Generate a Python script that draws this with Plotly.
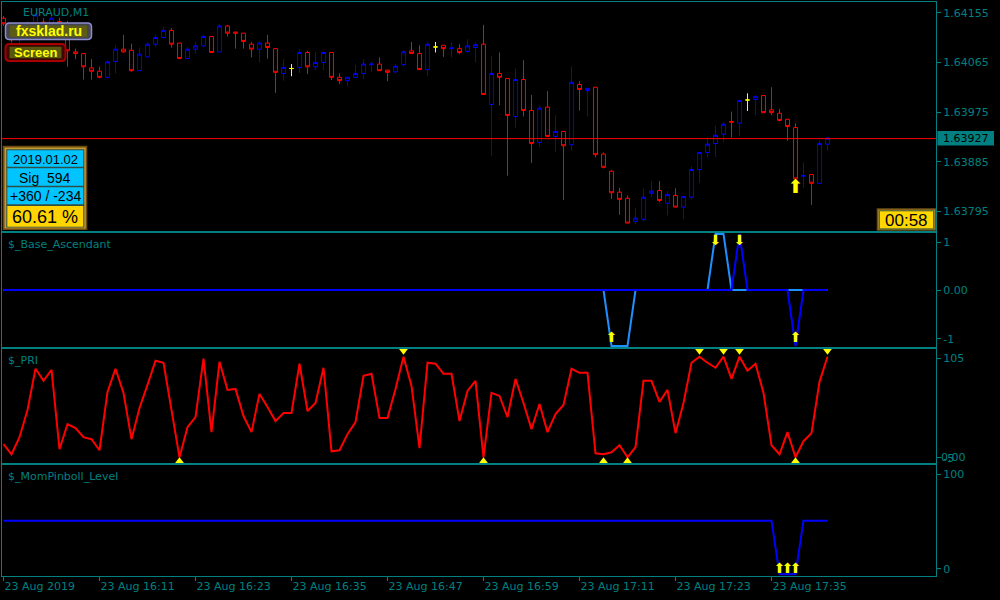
import plotly.graph_objects as go

# ---------------- data ----------------
time_ticks = [0, 12, 24, 36, 48, 60, 72, 84, 96]
time_labels = ["23 Aug 2019", "23 Aug 16:11", "23 Aug 16:23", "23 Aug 16:35", "23 Aug 16:47",
               "23 Aug 16:59", "23 Aug 17:11", "23 Aug 17:23", "23 Aug 17:35"]

opens = [1.64145, 1.64127, 1.64106, 1.64118, 1.64135, 1.64138, 1.64136, 1.64139, 1.64133, 1.64084,
         1.64081, 1.64055, 1.64049, 1.64038, 1.64067, 1.64089, 1.64087, 1.64050, 1.64075, 1.64098,
         1.64110, 1.64123, 1.64100, 1.64072, 1.64089, 1.64095, 1.64112, 1.64084, 1.64131, 1.64120,
         1.64118, 1.64098, 1.64089, 1.64100, 1.64090, 1.64045, 1.64054, 1.64056, 1.64083, 1.64057,
         1.64065, 1.64083, 1.64038, 1.64032, 1.64038, 1.64045, 1.64061, 1.64062, 1.64051, 1.64048,
         1.64061, 1.64086, 1.64081, 1.64052, 1.64093, 1.64096, 1.64090, 1.64090, 1.64085, 1.64092,
         1.64098, 1.63989, 1.64045, 1.64036, 1.63967, 1.64034, 1.63978, 1.63920, 1.63984, 1.63931,
         1.63940, 1.63916, 1.64025, 1.64014, 1.64020, 1.63899, 1.63868, 1.63830, 1.63819, 1.63777,
         1.63781, 1.63828, 1.63833, 1.63810, 1.63824, 1.63803, 1.63821, 1.63871, 1.63902, 1.63918,
         1.63935, 1.63958, 1.63955, 1.63997, 1.63998, 1.64005, 1.63979, 1.63973, 1.63962, 1.63947,
         1.63859, 1.63862, 1.63846, 1.63917]
highs = [1.64149, 1.64131, 1.64122, 1.64140, 1.64154, 1.64145, 1.64150, 1.64146, 1.64140, 1.64090,
         1.64081, 1.64071, 1.64057, 1.64068, 1.64096, 1.64115, 1.64099, 1.64092, 1.64102, 1.64115,
         1.64129, 1.64127, 1.64100, 1.64093, 1.64102, 1.64115, 1.64112, 1.64135, 1.64133, 1.64120,
         1.64118, 1.64102, 1.64104, 1.64115, 1.64090, 1.64071, 1.64062, 1.64089, 1.64086, 1.64084,
         1.64085, 1.64083, 1.64045, 1.64038, 1.64060, 1.64071, 1.64066, 1.64074, 1.64052, 1.64062,
         1.64087, 1.64102, 1.64096, 1.64102, 1.64102, 1.64096, 1.64101, 1.64098, 1.64107, 1.64102,
         1.64133, 1.64077, 1.64083, 1.64036, 1.64054, 1.64069, 1.64006, 1.63987, 1.64013, 1.63969,
         1.63940, 1.64058, 1.64031, 1.64018, 1.64020, 1.63902, 1.63870, 1.63838, 1.63824, 1.63801,
         1.63837, 1.63850, 1.63850, 1.63832, 1.63837, 1.63822, 1.63877, 1.63902, 1.63929, 1.63950,
         1.63957, 1.63976, 1.63996, 1.64009, 1.64006, 1.64005, 1.64020, 1.63981, 1.63962, 1.63955,
         1.63884, 1.63862, 1.63924, 1.63929]
lows = [1.64131, 1.64101, 1.64100, 1.64112, 1.64130, 1.64128, 1.64132, 1.64130, 1.64057, 1.64071,
        1.64034, 1.64034, 1.64036, 1.64036, 1.64045, 1.64083, 1.64048, 1.64050, 1.64075, 1.64093,
        1.64109, 1.64092, 1.64072, 1.64072, 1.64081, 1.64093, 1.64083, 1.64083, 1.64112, 1.64090,
        1.64090, 1.64074, 1.64065, 1.64072, 1.64010, 1.64032, 1.64040, 1.64046, 1.64044, 1.64051,
        1.64051, 1.64033, 1.64026, 1.64022, 1.64038, 1.64035, 1.64048, 1.64050, 1.64031, 1.64045,
        1.64057, 1.64081, 1.64052, 1.64040, 1.64083, 1.64075, 1.64074, 1.64080, 1.64083, 1.64065,
        1.64007, 1.63896, 1.63987, 1.63860, 1.63947, 1.63967, 1.63883, 1.63912, 1.63931, 1.63903,
        1.63816, 1.63905, 1.63978, 1.63967, 1.63893, 1.63873, 1.63818, 1.63789, 1.63774, 1.63772,
        1.63777, 1.63821, 1.63812, 1.63788, 1.63803, 1.63781, 1.63817, 1.63847, 1.63893, 1.63894,
        1.63921, 1.63929, 1.63931, 1.63977, 1.63969, 1.63973, 1.63970, 1.63958, 1.63923, 1.63852,
        1.63838, 1.63807, 1.63846, 1.63905]
closes = [1.64135, 1.64106, 1.64118, 1.64135, 1.64151, 1.64133, 1.64145, 1.64133, 1.64086, 1.64081,
          1.64057, 1.64049, 1.64038, 1.64066, 1.64089, 1.64084, 1.64050, 1.64080, 1.64098, 1.64110,
          1.64123, 1.64098, 1.64072, 1.64089, 1.64095, 1.64112, 1.64083, 1.64131, 1.64118, 1.64118,
          1.64103, 1.64089, 1.64100, 1.64092, 1.64047, 1.64056, 1.64054, 1.64083, 1.64057, 1.64065,
          1.64083, 1.64038, 1.64032, 1.64038, 1.64045, 1.64062, 1.64062, 1.64050, 1.64047, 1.64058,
          1.64084, 1.64081, 1.64052, 1.64098, 1.64093, 1.64090, 1.64091, 1.64083, 1.64095, 1.64097,
          1.64007, 1.64045, 1.64038, 1.63969, 1.64034, 1.63978, 1.63918, 1.63982, 1.63931, 1.63940,
          1.63914, 1.64029, 1.64016, 1.64018, 1.63898, 1.63875, 1.63829, 1.63817, 1.63774, 1.63783,
          1.63821, 1.63832, 1.63815, 1.63826, 1.63803, 1.63822, 1.63871, 1.63902, 1.63917, 1.63933,
          1.63953, 1.63957, 1.63996, 1.63997, 1.64003, 1.63974, 1.63974, 1.63960, 1.63949, 1.63854,
          1.63860, 1.63846, 1.63918, 1.63928]

current_price = 1.63927
price_ticks = [1.64155, 1.64065, 1.63975, 1.63885, 1.63795]
signal_arrow_bar = 99
signal_arrow_price = 1.63837

base_light = [0, 0, 0, 0, 0, 0, 0, 0, 0, 0, 0, 0, 0, 0, 0, 0, 0, 0, 0, 0,
              0, 0, 0, 0, 0, 0, 0, 0, 0, 0, 0, 0, 0, 0, 0, 0, 0, 0, 0, 0,
              0, 0, 0, 0, 0, 0, 0, 0, 0, 0, 0, 0, 0, 0, 0, 0, 0, 0, 0, 0,
              0, 0, 0, 0, 0, 0, 0, 0, 0, 0, 0, 0, 0, 0, 0, 0, -1, -1, -1, 0,
              0, 0, 0, 0, 0, 0, 0, 0, 0, 1, 1, 0, 0, 0, 0, 0, 0, 0, 0, 0,
              0, 0, 0, 0]
base_dark = [0, 0, 0, 0, 0, 0, 0, 0, 0, 0, 0, 0, 0, 0, 0, 0, 0, 0, 0, 0,
             0, 0, 0, 0, 0, 0, 0, 0, 0, 0, 0, 0, 0, 0, 0, 0, 0, 0, 0, 0,
             0, 0, 0, 0, 0, 0, 0, 0, 0, 0, 0, 0, 0, 0, 0, 0, 0, 0, 0, 0,
             0, 0, 0, 0, 0, 0, 0, 0, 0, 0, 0, 0, 0, 0, 0, 0, 0, 0, 0, 0,
             0, 0, 0, 0, 0, 0, 0, 0, 0, 0, 0, 0, 1, 0, 0, 0, 0, 0, 0, -1,
             0, 0, 0, 0]
base_up_arrows = [76, 99]
base_down_arrows = [89, 92]

pri = [13, 3, 20, 47, 88, 76, 87, 8, 33, 29, 20, 18, 7, 65, 88, 64, 18, 49, 72, 96,
       94, 47, 0, 30, 40, 98, 25, 95, 67, 68, 41, 25, 63, 50, 36, 44, 44, 93, 46, 54,
       89, 6, 7, 23, 35, 81, 83, 39, 39, 68, 100, 71, 9, 94, 93, 83, 83, 36, 66, 76,
       0, 64, 61, 40, 78, 54, 28, 53, 25, 43, 52, 88, 84, 84, 4, 3, 5, 12, 0, 10,
       76, 76, 55, 67, 24, 54, 94, 100, 94, 89, 100, 78, 100, 86, 93, 64, 12, 3, 25, 0,
       16, 24, 75, 100]
pri_top_marks = [50, 87, 90, 92, 103]
pri_bottom_marks = [22, 60, 75, 78, 99]

mom = [50, 50, 50, 50, 50, 50, 50, 50, 50, 50, 50, 50, 50, 50, 50, 50, 50, 50, 50, 50,
       50, 50, 50, 50, 50, 50, 50, 50, 50, 50, 50, 50, 50, 50, 50, 50, 50, 50, 50, 50,
       50, 50, 50, 50, 50, 50, 50, 50, 50, 50, 50, 50, 50, 50, 50, 50, 50, 50, 50, 50,
       50, 50, 50, 50, 50, 50, 50, 50, 50, 50, 50, 50, 50, 50, 50, 50, 50, 50, 50, 50,
       50, 50, 50, 50, 50, 50, 50, 50, 50, 50, 50, 50, 50, 50, 50, 50, 50, 0, 0, 0,
       50, 50, 50, 50]
mom_up_arrows = [97, 98, 99]

info_date = "2019.01.02"
info_sig = "Sig  594"
info_pl = "+360 / -234"
info_pct = "60.61 %"
timer_text = "00:58"
symbol_title = "EURAUD,M1"

# ---------------- geometry helpers ----------------
W, H = 1000, 600
ML, MR, MT, MB = 2, 64, 2, 24
PW = W - ML - MR
PH = H - MT - MB


def X(px):
    return (px - ML) / PW


def Y(py):
    return (H - MB - py) / PH


TEAL = "#008080"
FONT = "DejaVu Sans"
idx = list(range(len(opens)))
XR = [-0.1875, 116.5625]

fig = go.Figure()

# candles
nd = [i for i in idx if opens[i] != closes[i]]
dj = [i for i in idx if opens[i] == closes[i]]
fig.add_trace(go.Candlestick(
    x=nd, open=[opens[i] for i in nd], high=[highs[i] for i in nd],
    low=[lows[i] for i in nd], close=[closes[i] for i in nd],
    increasing=dict(line=dict(color="#0000ff", width=1), fillcolor="rgba(0,0,0,0)"),
    decreasing=dict(line=dict(color="#ff0000", width=1), fillcolor="rgba(0,0,0,0)"),
    xaxis="x", yaxis="y", hoverinfo="skip", showlegend=False))
fig.add_trace(go.Candlestick(
    x=dj, open=[opens[i] for i in dj], high=[highs[i] for i in dj],
    low=[lows[i] for i in dj], close=[closes[i] for i in dj],
    increasing=dict(line=dict(color="#ffff00", width=1), fillcolor="rgba(0,0,0,0)"),
    decreasing=dict(line=dict(color="#ffff00", width=1), fillcolor="rgba(0,0,0,0)"),
    xaxis="x", yaxis="y", hoverinfo="skip", showlegend=False))

ARROW_UP = "⬆"
ARROW_DN = "⬇"
fig.add_trace(go.Scatter(x=[signal_arrow_bar], y=[signal_arrow_price], mode="text", text=[ARROW_UP],
                         textfont=dict(family=FONT, size=19, color="#ffff00"),
                         xaxis="x", yaxis="y", hoverinfo="skip", showlegend=False))

# Base Ascendant
fig.add_trace(go.Scatter(x=idx, y=base_light, mode="lines", line=dict(color="#1e90ff", width=2),
                         xaxis="x2", yaxis="y2", hoverinfo="skip", showlegend=False))
fig.add_trace(go.Scatter(x=idx, y=base_dark, mode="lines", line=dict(color="#0000ff", width=2),
                         xaxis="x2", yaxis="y2", hoverinfo="skip", showlegend=False))
fig.add_trace(go.Scatter(x=base_up_arrows, y=[-0.87] * len(base_up_arrows), mode="text",
                         text=[ARROW_UP] * len(base_up_arrows),
                         textfont=dict(family=FONT, size=14, color="#ffff00"),
                         xaxis="x2", yaxis="y2", hoverinfo="skip", showlegend=False))
fig.add_trace(go.Scatter(x=base_down_arrows, y=[0.87] * len(base_down_arrows), mode="text",
                         text=[ARROW_DN] * len(base_down_arrows),
                         textfont=dict(family=FONT, size=14, color="#ffff00"),
                         xaxis="x2", yaxis="y2", hoverinfo="skip", showlegend=False))

# PRI
fig.add_trace(go.Scatter(x=idx, y=pri, mode="lines", line=dict(color="#ff0000", width=2),
                         xaxis="x3", yaxis="y3", hoverinfo="skip", showlegend=False))
fig.add_trace(go.Scatter(x=pri_top_marks, y=[106.5] * len(pri_top_marks), mode="markers",
                         marker=dict(symbol="triangle-down", size=9, color="#ffff00"),
                         xaxis="x3", yaxis="y3", hoverinfo="skip", showlegend=False))
fig.add_trace(go.Scatter(x=pri_bottom_marks, y=[-4.5] * len(pri_bottom_marks), mode="markers",
                         marker=dict(symbol="triangle-up", size=9, color="#ffff00"),
                         xaxis="x3", yaxis="y3", hoverinfo="skip", showlegend=False))

# MomPinboll
fig.add_trace(go.Scatter(x=idx, y=mom, mode="lines", line=dict(color="#0000ff", width=2),
                         xaxis="x4", yaxis="y4", hoverinfo="skip", showlegend=False))
fig.add_trace(go.Scatter(x=mom_up_arrows, y=[4.5] * len(mom_up_arrows), mode="text",
                         text=[ARROW_UP] * len(mom_up_arrows),
                         textfont=dict(family=FONT, size=14, color="#ffff00"),
                         xaxis="x4", yaxis="y4", hoverinfo="skip", showlegend=False))

# ---------------- axes ----------------
axfont = dict(family=FONT, size=11, color=TEAL)
xcommon = dict(range=XR, showline=True, mirror=True, linecolor=TEAL, linewidth=1,
               showgrid=False, zeroline=False, fixedrange=True)
ycommon = dict(side="right", showline=True, mirror=True, linecolor=TEAL, linewidth=1,
               showgrid=False, zeroline=False, ticks="outside", ticklen=4, tickcolor=TEAL,
               tickfont=axfont, fixedrange=True)

fig.update_layout(
    width=W, height=H, margin=dict(l=ML, r=MR, t=MT, b=MB),
    paper_bgcolor="#000000", plot_bgcolor="#000000", showlegend=False,
    xaxis=dict(**xcommon, anchor="y", showticklabels=False, rangeslider=dict(visible=False)),
    xaxis2=dict(**xcommon, anchor="y2", matches="x", showticklabels=False),
    xaxis3=dict(**xcommon, anchor="y3", matches="x", showticklabels=False),
    xaxis4=dict(**xcommon, anchor="y4", matches="x", tickvals=time_ticks, ticktext=time_labels,
                ticks="outside", ticklen=4, tickcolor=TEAL, tickfont=axfont,
                ticklabelposition="outside right"),
    yaxis=dict(**ycommon, anchor="x", domain=[Y(231), Y(2)], range=[1.637597, 1.641744],
               tickvals=price_ticks, ticktext=["%.5f" % v for v in price_ticks]),
    yaxis2=dict(**ycommon, anchor="x2", domain=[Y(347), Y(233)], range=[-1.018, 1.018],
                tickvals=[0.857, 0, -0.875], ticktext=["1", "0.00", "-1"]),
    yaxis3=dict(**ycommon, anchor="x3", domain=[Y(463), Y(349)], range=[-5.67, 107.65],
                tickvals=[98.4, -0.4], ticktext=["105", "-5"]),
    yaxis4=dict(**ycommon, anchor="x4", domain=[Y(576), Y(465)], range=[-1.59, 101.96],
                tickvals=[93.3, 5.2], ticktext=["100", "0"]),
)

shapes = []
annos = []


def rect(x0, y0, x1, y1, fill, line=None, lw=0):
    shapes.append(dict(type="rect", xref="paper", yref="paper", x0=X(x0), x1=X(x1), y0=Y(y1), y1=Y(y0),
                       fillcolor=fill, line=dict(color=line or fill, width=lw), layer="above"))


def rrect(x0, y0, x1, y1, r, fill, line, lw):
    p = (f"M{X(x0 + r)},{Y(y0)} L{X(x1 - r)},{Y(y0)} Q{X(x1)},{Y(y0)} {X(x1)},{Y(y0 + r)} "
         f"L{X(x1)},{Y(y1 - r)} Q{X(x1)},{Y(y1)} {X(x1 - r)},{Y(y1)} L{X(x0 + r)},{Y(y1)} "
         f"Q{X(x0)},{Y(y1)} {X(x0)},{Y(y1 - r)} L{X(x0)},{Y(y0 + r)} Q{X(x0)},{Y(y0)} {X(x0 + r)},{Y(y0)} Z")
    shapes.append(dict(type="path", xref="paper", yref="paper", path=p, fillcolor=fill,
                       line=dict(color=line, width=lw), layer="above"))


def text(px, py, s, size, color, family=FONT, anchor="left", bold=False):
    annos.append(dict(xref="paper", yref="paper", x=X(px), y=Y(py), text=s, showarrow=False,
                      xanchor=anchor, yanchor="middle",
                      font=dict(family=family, size=size, color=color, weight="bold" if bold else "normal")))


# current price line
shapes.append(dict(type="line", xref="paper", yref="y", x0=0, x1=1, y0=current_price, y1=current_price,
                   line=dict(color="#ff0000", width=1), layer="above"))
# price label
rect(937.5, 131, 994, 145.5, TEAL)
text(941.5, 138.3, "%.5f" % current_price, 11, "#000000")

# title and panel names
text(20.5, 12.7, symbol_title, 11, TEAL)
text(6, 244.5, "$_Base_Ascendant", 11, TEAL)
text(6, 360.5, "$_PRI", 11, TEAL)
text(6, 476.5, "$_MomPinboll_Level", 11, TEAL)
text(939.5, 457.7, "0.00", 11, TEAL)

# buttons
rrect(5.5, 23, 91.5, 39.5, 4, "#45454f", "#8c8cd0", 1.5)
rect(10, 25.5, 87, 37, "#5c5c18")
text(48.5, 31.3, "fxsklad.ru", 14, "#ffff00", family="Liberation Sans", anchor="center", bold=True)
rrect(5.5, 44, 65.5, 61, 4, "#3a0800", "#a80000", 2)
rect(9.5, 46.8, 61.5, 58.2, "#56560e")
text(35.5, 52.8, "Screen", 13, "#ffff00", family="Liberation Sans", anchor="center", bold=True)

# info panel
rect(2.7, 145.7, 87.3, 230, "#6e4a10")
rect(4.5, 147.5, 85.8, 228.5, "#c29a32")
rect(6.3, 149.2, 84.3, 227.6, "#2f4f46")
rect(7.3, 150.2, 83.3, 166.7, "#00c4ff")
rect(7.3, 168.3, 83.3, 185.7, "#00c4ff")
rect(7.3, 187.3, 83.3, 204.3, "#00c4ff")
rect(7.3, 206, 83.3, 226.7, "#ffd400")
text(45.3, 159.3, info_date, 13, "#000000", family="Liberation Sans", anchor="center")
text(45.3, 177.5, info_sig, 14, "#000000", family="Liberation Sans", anchor="center")
text(45.3, 196.2, info_pl, 14, "#000000", family="Liberation Sans", anchor="center")
text(45.3, 217.0, info_pct, 18, "#000000", family="Liberation Sans", anchor="center")

# timer
rect(876.7, 208.3, 936, 230.7, "#6e5014")
rect(878.2, 209.7, 934.8, 229.6, "#b89232")
rect(879.3, 210.8, 933.7, 228.9, "#ffd700", "#3c5a3c", 1)
text(906.5, 220, timer_text, 17, "#000000", family="Liberation Sans", anchor="center")

fig.update_layout(shapes=shapes, annotations=annos)
fig.write_html("out.html", config={"displayModeBar": False, "staticPlot": True},
               post_script="document.body.style.margin='0';document.body.style.padding='0';")
